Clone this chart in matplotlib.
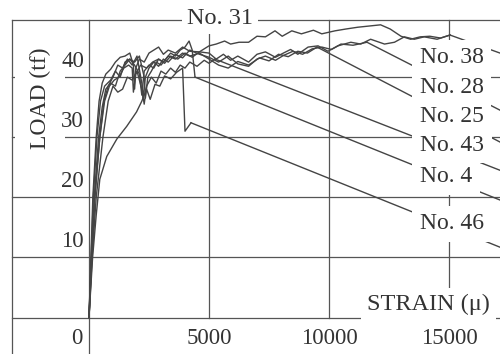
import matplotlib
matplotlib.use('Agg')
import matplotlib.pyplot as plt

plt.rcParams['font.family'] = ['Liberation Serif', 'DejaVu Serif']

# ---------------- data (strain in micro, load in tf) ----------------
strain_31 = [0, 80, 160, 300, 420, 550, 700, 900, 1100, 1300, 1500, 1700, 1850, 1900, 1950, 2100,
             2300, 2500, 2700, 2900, 3100, 3300, 3600, 3900, 4200, 4600, 5000, 5300, 5650, 5900,
             6250, 6650, 7000, 7350, 7750, 8050, 8450, 8850, 9350, 9700, 10250, 10700, 11200,
             12150, 12550, 13000, 13400, 13800, 14200, 14650, 15042]
load_31 = [0, 10, 20, 30, 36, 39, 40.5, 41.3, 42.5, 43.3, 43.5, 44, 42, 38, 41.5, 43,
           42.5, 44, 44.5, 45, 43.8, 44.5, 44, 45, 44.3, 44.2, 45.2, 45.5, 46, 45.5,
           45.8, 45.8, 46.8, 46.7, 47.7, 46.8, 47.7, 47.2, 47.8, 47.2, 47.7, 48, 48.3,
           48.7, 48, 46.8, 46.3, 46.7, 46.8, 46.5, 47.0]

strain_38 = [0, 120, 250, 450, 650, 850, 1050, 1250, 1450, 1650, 1800, 1850, 1950, 2150, 2400,
             2650, 2900, 3150, 3400, 3700, 4000, 4300, 4600, 5000, 5300, 5600, 5900, 6200, 6650,
             7000, 7350, 7770, 8100, 8400, 8700, 9130, 9545, 9958, 10372, 10909, 11322, 11735,
             12314, 12727, 13140, 13553, 13966, 14504, 15042]
load_38 = [0, 10, 20, 30, 36, 38.5, 39.5, 40, 41.5, 42, 41.5, 37.5, 40.5, 42, 41.5,
           42.5, 43, 42.3, 43.5, 43, 44, 43.3, 44.2, 44.0, 43.0, 43.8, 42.8, 43.5, 42.5,
           43.8, 44.2, 43.3, 44.0, 44.6, 43.8, 45.0, 45.2, 44.3, 45.2, 45.8, 45.5, 46.3,
           45.5, 45.8, 46.7, 46.3, 46.7, 46.3, 47.0]

strain_28 = [0, 110, 230, 450, 620, 800, 1000, 1200, 1400, 1600, 1800, 2000, 2200, 2250, 2350,
             2500, 2700, 2900, 3100, 3300, 3600, 3900, 4200, 4600, 5000, 5400, 5800, 6200, 6650,
             7000, 7350, 7770, 8100, 8500, 8900, 9300, 9700, 10100, 10500, 11000, 11583]
load_28 = [0, 10, 20, 30, 36, 38.5, 40, 42, 41.5, 43, 42, 43.5, 39, 36.5, 40,
           41.5, 42.5, 41.8, 43, 42.5, 43.8, 43.2, 44.5, 43.8, 43.3, 42.5, 43.5, 42.2, 41.8,
           43.0, 43.5, 42.8, 43.6, 44.3, 43.8, 44.7, 45.0, 44.6, 45.5, 45.3, 45.8]

strain_25 = [0, 90, 180, 330, 480, 650, 900, 1100, 1300, 1500, 1700, 1900, 2100, 2200, 2300,
             2500, 2700, 2900, 3100, 3300, 3600, 3900, 4200, 4600, 5000, 5400, 5800, 6200, 6650,
             7100, 7500, 7900, 8300, 8700, 9100, 9500]
load_25 = [0, 10, 20, 30, 36, 38.5, 39.5, 41, 40, 42.5, 43, 42, 40.5, 37, 41,
           42, 41.5, 43, 42.5, 43.5, 43, 44, 43.5, 44, 43.0, 42.0, 41.5, 42.6, 42.0,
           43.2, 42.7, 43.8, 43.4, 44.3, 44.0, 45.0]

strain_43 = [0, 130, 300, 580, 800, 1000, 1200, 1400, 1600, 1800, 2000, 2200, 2300, 2400, 2600,
             2800, 3000, 3200, 3400, 3600, 3800, 4000, 4200, 4500, 4800, 5000, 5250]
load_43 = [0, 10, 20, 30, 36, 38.5, 37.5, 38, 40, 39.5, 41, 38, 35.5, 38.5, 40,
           39, 41, 40.5, 41.5, 40.8, 42, 41.5, 42.5, 41.8, 42.8, 42.3, 43.0]

strain_4 = [0, 100, 220, 400, 550, 700, 900, 1100, 1300, 1500, 1700, 1900, 2100, 2300, 2350,
            2450, 2600, 2800, 3000, 3200, 3400, 3600, 3800, 4000, 4170, 4300, 4417]
load_4 = [0, 10, 20, 30, 35, 38, 39, 38.5, 41, 42, 43, 42.5, 43.5, 40, 36.5,
          40, 41, 42.5, 42, 43, 44, 43.5, 44.5, 45, 46, 44.5, 40.0]

strain_46 = [0, 150, 300, 450, 740, 1160, 1570, 1980, 2200, 2400, 2550, 2750, 2950, 3150, 3400,
             3650, 3900, 4000, 4250]
load_46 = [0, 10, 17, 23, 26.8, 29.7, 31.8, 34.2, 36, 38, 36.3, 38.8, 38.5, 40.2, 39.7,
           40.8, 41.5, 31, 32.4]

# leader lines run from each curve end to the right edge of the chart
leader_specimens = ['No. 38', 'No. 28', 'No. 25', 'No. 43', 'No. 4', 'No. 46']
leader_end_load = [44.0, 34.5, 29.2, 24.5, 19.55, 11.7]
label_load = [43.2, 38.2, 33.5, 28.7, 23.4, 15.6]

x_ticks = [5000, 10000, 15000]
x_tick_labels = ['5000', '10000', '15000']
y_ticks = [10, 20, 30, 40]
y_tick_labels = ['10', '20', '30', '40']

curves = {
    'No. 31': (strain_31, load_31),
    'No. 38': (strain_38, load_38),
    'No. 28': (strain_28, load_28),
    'No. 25': (strain_25, load_25),
    'No. 43': (strain_43, load_43),
    'No. 4': (strain_4, load_4),
    'No. 46': (strain_46, load_46),
}

# ---------------- layout ----------------
K = 5000 / 120.0
XMIN, XMAX = -89 * K, 411 * K
YMIN, YMAX = -6.07, 52.83
X_LEFT = -3208
Y_TOP = 49.5

fig = plt.figure(figsize=(5.0, 3.54), dpi=100)
ax = fig.add_axes([0, 0, 1, 1])
ax.set_xlim(XMIN, XMAX)
ax.set_ylim(YMIN, YMAX)
ax.axis('off')

gcol = '#555555'
lw_g = 0.9
# horizontal grid lines incl. zero line
for y in [0] + y_ticks:
    ax.plot([X_LEFT, XMAX], [y, y], color=gcol, lw=lw_g, zorder=1)
# top border
ax.plot([X_LEFT, XMAX], [Y_TOP, Y_TOP], color=gcol, lw=lw_g, zorder=1)
# left border and zero-strain line run to the bottom
ax.plot([X_LEFT, X_LEFT], [YMIN, Y_TOP], color=gcol, lw=lw_g, zorder=2)
ax.plot([0, 0], [YMIN, Y_TOP], color=gcol, lw=lw_g, zorder=1)
for x in x_ticks:
    ax.plot([x, x], [0, Y_TOP], color=gcol, lw=lw_g, zorder=1)

ccol = '#444444'
for name, (s, l) in curves.items():
    ax.plot(s, l, color=ccol, lw=1.0, zorder=3)

for name, end_l in zip(leader_specimens, leader_end_load):
    s, l = curves[name]
    ax.plot([s[-1], XMAX], [l[-1], end_l], color=ccol, lw=1.0, zorder=3)

tcol = '#333333'
box = dict(boxstyle='square,pad=0.32', fc='white', ec='none')
for name, ly in zip(leader_specimens, label_load):
    ax.text(13792, ly, name, fontsize=17, color=tcol, ha='left', va='center',
            bbox=box, zorder=6)

ax.text(5458, 49.8, 'No. 31', fontsize=17.5, color=tcol, ha='center', va='center',
        bbox=dict(boxstyle='square,pad=0.2', fc='white', ec='none'), zorder=6)

for y, t in zip(y_ticks, y_tick_labels):
    ax.text(-208, y + 2.6, t, fontsize=16.5, color=tcol, ha='right', va='center', zorder=7)
ax.text(-500, -3.5, '0', fontsize=16.5, color=tcol, ha='center', va='center', zorder=7)
for x, t in zip(x_ticks, x_tick_labels):
    ax.text(x, -3.5, t, fontsize=16.5, color=tcol, ha='center', va='center', zorder=7)

ax.text(16708, 2.1, 'STRAIN (μ)', fontsize=17.5, color=tcol, ha='right', va='center',
        bbox=dict(boxstyle='square,pad=0.25', fc='white', ec='none'), zorder=6)
ax.text(-2042, 36.5, 'LOAD (tf)', fontsize=17, color=tcol, ha='center', va='center',
        rotation=90, bbox=dict(boxstyle='square,pad=0.62', fc='white', ec='none'), zorder=1.5)

fig.savefig('out.png', dpi=100, facecolor='white')
